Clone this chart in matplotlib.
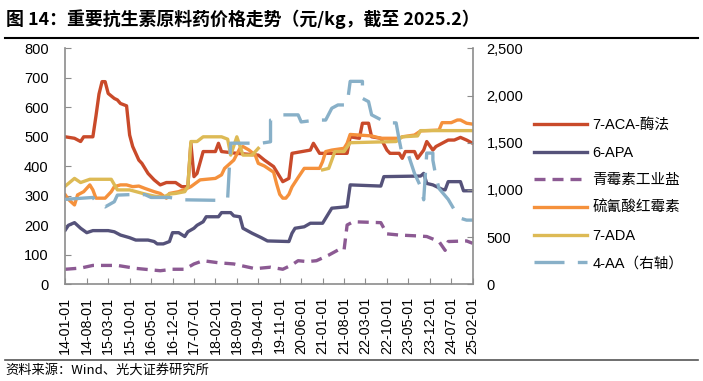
import numpy as np
import pandas as pd
import matplotlib
matplotlib.use("Agg")
import matplotlib.pyplot as plt
from matplotlib.lines import Line2D

plt.rcParams['font.family'] = ['Liberation Sans', 'Noto Sans CJK SC', 'DejaVu Sans']

nan = np.nan

# --- data (month, price in 元/kg) ---
aca_dates = ["2014-01", "2014-04", "2014-06", "2014-07", "2014-10", "2014-11", "2014-12", "2015-01",
             "2015-02", "2015-03", "2015-05", "2015-06", "2015-07", "2015-09", "2015-10", "2015-11",
             "2016-01", "2016-02", "2016-04", "2016-06", "2016-08", "2016-10", "2017-01", "2017-03",
             "2017-05", "2017-06", "2017-07", "2017-08", "2017-10", "2018-02", "2018-03", "2018-04",
             "2018-09", "2019-04", "2019-06", "2019-09", "2019-11", "2019-12", "2020-02", "2020-03",
             "2020-09", "2020-10", "2020-12", "2021-09", "2021-10", "2022-01", "2022-02", "2022-04",
             "2022-05", "2022-08", "2022-10", "2022-11", "2023-02", "2023-03", "2023-04", "2023-07",
             "2023-08", "2023-10", "2023-11", "2024-01", "2024-02", "2024-04", "2024-06", "2024-08",
             "2024-10", "2024-12", "2025-02"]
aca_vals = [500, 495, 484, 500, 500, 570, 645, 687, 687, 647, 630, 625, 613, 605, 506, 467,
            421, 410, 376, 354, 337, 345, 345, 331, 331, 478, 365, 376, 450, 450, 478, 450,
            444, 438, 421, 399, 365, 348, 359, 444, 455, 478, 444, 444, 500, 495, 546, 546,
            500, 495, 455, 444, 444, 427, 450, 450, 427, 455, 484, 455, 467, 478, 489, 489,
            498, 489, 478]

apa_dates = ["2014-01", "2014-02", "2014-04", "2014-06", "2014-08", "2014-10", "2015-03", "2015-05",
             "2015-07", "2015-10", "2015-12", "2016-04", "2016-06", "2016-07", "2016-09", "2016-11",
             "2016-12", "2017-02", "2017-04", "2017-05", "2017-07", "2017-08", "2017-10", "2017-11",
             "2018-03", "2018-04", "2018-07", "2018-08", "2018-10", "2018-11", "2019-02", "2019-05",
             "2019-07", "2020-02", "2020-03", "2020-04", "2020-07", "2020-09", "2021-01", "2021-02",
             "2021-04", "2021-09", "2021-10", "2022-08", "2022-09", "2023-09", "2023-10", "2023-11",
             "2024-01", "2024-04", "2024-05", "2024-06", "2024-10", "2024-11", "2025-02"]
apa_vals = [184, 200, 209, 190, 175, 182, 182, 178, 167, 158, 150, 150, 145, 137, 137, 145,
            175, 175, 162, 178, 190, 200, 212, 229, 229, 243, 243, 232, 229, 190, 173, 158,
            147, 145, 173, 190, 195, 207, 207, 224, 258, 263, 337, 333, 365, 367, 376, 342,
            337, 322, 320, 348, 348, 317, 317]

salt_dates = ["2014-01", "2014-06", "2014-10", "2015-06", "2015-12", "2016-08", "2016-12", "2017-04",
              "2017-07", "2017-10", "2018-03", "2018-08", "2018-11", "2019-03", "2019-08", "2019-12",
              "2020-03", "2020-05", "2020-08", "2020-11", "2021-03", "2021-06", "2021-08", "2021-09",
              "2021-11", "2022-08", "2022-10", "2023-02", "2023-08", "2023-11", "2024-03", "2024-05",
              "2024-06", "2024-12", "2025-02"]
salt_vals = [51, 55, 64, 64, 54, 46, 51, 51, 69, 80, 73, 69, 62, 53, 58, 51,
             66, 80, 77, 80, 99, 116, 116, 201, 212, 209, 171, 167, 164, 162, 145, 115,
             145, 147, 139]

ery_dates = ["2014-01", "2014-02", "2014-04", "2014-05", "2014-07", "2014-09", "2014-10", "2014-11",
             "2015-02", "2015-04", "2015-05", "2015-07", "2015-09", "2015-11", "2016-01", "2016-03",
             "2016-06", "2016-08", "2016-10", "2016-11", "2017-02", "2017-04", "2017-06", "2017-09",
             "2018-02", "2018-04", "2018-05", "2018-08", "2018-10", "2018-11", "2019-01", "2019-03",
             "2019-04", "2019-06", "2019-09", "2019-10", "2019-11", "2019-12", "2020-01", "2020-02",
             "2020-03", "2020-05", "2020-07", "2020-12", "2021-01", "2021-02", "2021-04", "2021-08",
             "2021-09", "2021-10", "2022-05", "2022-08", "2023-02", "2023-03", "2023-07", "2023-09",
             "2024-03", "2024-04", "2024-07", "2024-09", "2024-10", "2024-12", "2025-02"]
ery_vals = [303, 288, 269, 303, 314, 337, 320, 292, 292, 314, 331, 337, 337, 331, 333, 325,
            314, 308, 292, 308, 314, 322, 331, 354, 359, 371, 393, 421, 461, 467, 455, 438,
            410, 401, 380, 340, 305, 292, 292, 305, 330, 362, 393, 393, 416, 450, 455, 461,
            478, 508, 503, 495, 495, 500, 506, 520, 523, 548, 548, 557, 557, 546, 543]

ada_dates = ["2014-01", "2014-04", "2014-06", "2014-09", "2015-04", "2015-06", "2015-10", "2016-03",
             "2016-06", "2016-09", "2016-11", "2017-01", "2017-04", "2017-05", "2017-06", "2017-08",
             "2017-10", "2018-04", "2018-06", "2018-07", "2018-09", "2018-11", "2019-02", "2019-04",
             "2019-05", "2021-01", "2021-03", "2021-04", "2021-05", "2021-08", "2021-10", "2023-01",
             "2023-03", "2023-08", "2023-09", "2025-02"]
ada_vals = [333, 359, 345, 356, 356, 320, 320, 306, 299, 295, 306, 308, 314, 331, 484, 484,
            500, 500, 492, 438, 500, 438, 438, 461, nan, 388, 393, 421, 450, 450, 480, 484,
            500, 503, 521, 521]

aa_dates = ["2014-01", "2014-10", "2014-11", "2015-02", "2015-05", "2015-06", "2015-10", "2016-03",
            "2016-05", "2016-11", "2017-04", "2018-02", "2018-06", "2018-07", "2019-05", "2019-08",
            "2019-08", "2019-12", "2020-05", "2020-06", "2020-11", "2021-02", "2021-04", "2021-06",
            "2021-09", "2021-10", "2022-02", "2022-02", "2022-04", "2022-05", "2022-10", "2023-01",
            "2023-02", "2023-03", "2023-05", "2023-07", "2023-09", "2023-10", "2023-11", "2024-01",
            "2024-01", "2024-02", "2024-03", "2024-06", "2024-08", "2024-10", "2024-12", "2025-02"]
aa_vals = [900, 920, 875, 820, 875, 945, 950, 950, 920, 920, 895, 890, 910, 1495, 1495, 1510,
           1740, 1795, 1795, 1720, 1740, 1740, 1865, 1900, 1900, 2150, 2150, 1970, 1935, 1795,
           1710, 1710, 1530, 1370, 1370, 1175, 1035, 895, 1390, 1390, 1315, 1140, 1015, 900,
           790, 700, 680, 680]

start = pd.Period("2014-01", "M")


def months(dates):
    return [(pd.Period(d, "M") - start).n for d in dates]


fig = plt.figure(figsize=(7.03, 3.81), dpi=100)
fig.subplots_adjust(left=0.0929, right=0.6724, bottom=0.2538, top=0.8732)
ax = fig.add_subplot(111)
ax2 = ax.twinx()

lw = 2.4
ax.plot(months(aca_dates), aca_vals, color="#C94A2A", lw=lw, label="7-ACA-酶法")
ax.plot(months(apa_dates), apa_vals, color="#55527A", lw=lw, label="6-APA")
ax.plot(months(salt_dates), salt_vals, color="#8C5A93", lw=lw, dashes=(3.3, 2.1), label="青霉素工业盐")
ax.plot(months(ery_dates), ery_vals, color="#F5913C", lw=lw, label="硫氰酸红霉素")
ax.plot(months(ada_dates), ada_vals, color="#DDBA55", lw=lw, label="7-ADA")
ax2.plot(months(aa_dates), aa_vals, color="#88B0C8", lw=lw, dashes=(9, 4), label="4-AA（右轴）")

# axes
ax.set_xlim(0, 133)
ax.set_ylim(0, 800)
ax2.set_ylim(0, 2500)
xt = list(range(0, 134, 7))
ax.set_xticks(xt)
ax.set_xticklabels([(start + k).strftime("%y-%m-01") for k in xt], rotation=90)
ax.set_yticks(range(0, 801, 100))
ax2.set_yticks(range(0, 2501, 500))
ax2.set_yticklabels([f"{v:,}" for v in range(0, 2501, 500)])

grey = "#8C8C8C"
for a in (ax, ax2):
    for s in a.spines.values():
        s.set_color(grey)
        s.set_linewidth(1.2)
    a.spines["top"].set_visible(False)
ax.spines["right"].set_visible(False)
ax2.spines["left"].set_visible(False)
ax2.spines["bottom"].set_visible(False)
ax.tick_params(axis="y", direction="in", length=4, color=grey, labelsize=10.5, pad=12)
ax.tick_params(axis="x", direction="in", length=4, color=grey, labelsize=10.3, pad=9)
ax2.tick_params(axis="y", direction="in", length=4, color=grey, labelsize=10.5, pad=10)

# legend
h1, l1 = ax.get_legend_handles_labels()
h2, l2 = ax2.get_legend_handles_labels()
fig.legend(h1 + h2, l1 + l2, loc="upper left", bbox_to_anchor=(534 / 703, 1 - 118 / 381),
           frameon=False, fontsize=10.5, handlelength=3.6, handletextpad=0.4,
           labelspacing=0.94, borderpad=0, borderaxespad=0)

# title, rules and source
fig.text(0.008, 1 - 19 / 381, "图 14：重要抗生素原料药价格走势（元/kg，截至 2025.2）",
         fontsize=12.9, fontweight="bold", va="center", ha="left",
         family=["Noto Sans CJK SC", "DejaVu Sans"])
fig.add_artist(Line2D([5 / 703, 698 / 703], [1 - 38 / 381, 1 - 38 / 381], color="black", lw=1.5))
fig.add_artist(Line2D([5 / 703, 698 / 703], [1 - 360 / 381, 1 - 360 / 381], color="#555555", lw=1.2))
fig.text(0.008, 1 - 370 / 381, "资料来源：Wind、光大证券研究所", fontsize=9.5, va="center", ha="left",
         family=["Noto Sans CJK SC", "DejaVu Sans"])

fig.savefig("out.png", dpi=100)
